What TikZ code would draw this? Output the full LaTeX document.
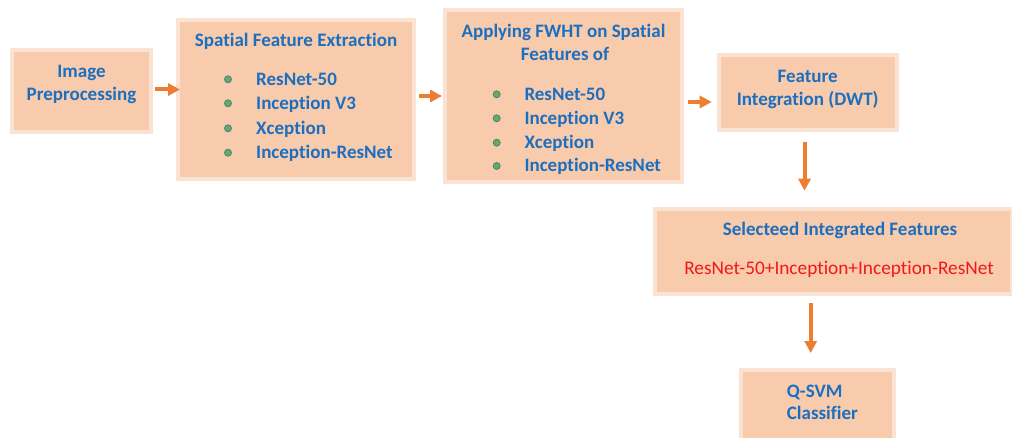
\documentclass[tikz,border=0pt]{standalone}
\usepackage{fontspec}
\setmainfont{Carlito}[Ligatures=NoCommon]
\usetikzlibrary{arrows.meta}
\definecolor{boxfill}{HTML}{F8CBAD}
\definecolor{boxrim}{HTML}{FBE3D3}
\definecolor{txtblue}{HTML}{1C6FBF}
\definecolor{arrorange}{HTML}{ED7D31}
\definecolor{dotgreen}{HTML}{6AAE47}
\definecolor{dotrim}{HTML}{3A7FA8}
\definecolor{txtred}{HTML}{F21818}
\tikzset{
  stage/.style={draw=boxrim, fill=boxfill, line width=4pt, inner sep=0pt, outer sep=0pt},
  lbl/.style={inner sep=0pt, text=txtblue, font=\fontsize{19}{22}\selectfont\bfseries, anchor=mid, yshift=-3.5pt},
  item/.style={lbl, anchor=mid west},
  dot/.style={circle, fill=dotgreen, draw=dotrim, line width=0.8pt, minimum size=7pt, inner sep=0pt},
  arr/.style={draw=arrorange, line width=4pt, -{Triangle[length=12pt,width=12pt]}},
}
\begin{document}
\begin{tikzpicture}[x=1pt, y=-1pt]
\useasboundingbox (0,0) rectangle (1012,438);
\clip (0,0) rectangle (1012,438);
\fill[white] (0,0) rectangle (1012,438);

% stage boxes
\node[stage, minimum width=139pt, minimum height=82pt] (b1) at (81.5,91) {};
\node[stage, minimum width=236pt, minimum height=158.5pt] (b2) at (296,99.3) {};
\node[stage, minimum width=237pt, minimum height=172pt] (b3) at (563.5,96) {};
\node[stage, minimum width=178pt, minimum height=74.7pt] (b4) at (807.7,92.3) {};
\node[stage, minimum width=357.3pt, minimum height=85.3pt] (b5) at (833.3,251.3) {};
\node[stage, minimum width=153.3pt, minimum height=78pt] (b6) at (817.3,409) {};

% image preprocessing
\node[lbl] (t1a) at (81.5,72) {Image};
\node[lbl] (t1b) at (81.5,95) {Preprocessing};

% spatial feature extraction
\node[lbl] (t2) at (296,41) {Spatial Feature Extraction};
\foreach \y/\name [count=\i] in {79.3/ResNet-50, 103.3/Inception V3, 128.3/Xception, 152.7/Inception-ResNet} {
  \node[dot] (d2\i) at (228,\y) {};
  \node[item] (i2\i) at (256,\y) {\name};
}

% FWHT stage
\node[lbl] (t3a) at (563.5,32) {Applying FWHT on Spatial};
\node[lbl] (t3b) at (565,55) {Features of};
\foreach \y/\name [count=\i] in {94.3/ResNet-50, 118.3/Inception V3, 142.7/Xception, 166/Inception-ResNet} {
  \node[dot] (d3\i) at (496.7,\y) {};
  \node[item] (i3\i) at (524.3,\y) {\name};
}

% feature integration
\node[lbl] (t4a) at (807.7,77) {Feature};
\node[lbl] (t4b) at (807.7,100) {Integration (DWT)};

% selected features
\node[lbl] (t5a) at (840,229.5) {Selecteed Integrated Features};
\node[lbl, text=txtred, font=\fontsize{19.3}{22}\selectfont] (t5b) at (839,268.5) {ResNet-50+Inception+Inception-ResNet};

% classifier
\node[item] (t6a) at (786.7,392) {Q-SVM};
\node[item] (t6b) at (786.7,413.5) {Classifier};

% flow arrows
\draw[arr, shorten <=4pt, shorten >=-2pt] (b1.east |- 0,89.5) -- (b2.west |- 0,89.5);
\draw[arr, shorten <=5pt, shorten >=3pt] (b2.east |- 0,96) -- (b3.west |- 0,96);
\draw[arr, shorten <=6pt, shorten >=7pt] (b3.east |- 0,102) -- (b4.west |- 0,102);
\draw[arr, shorten <=12pt, shorten >=18pt] (b4.south -| 804.5,0) -- (b5.north -| 804.5,0);
\draw[arr, shorten <=9pt, shorten >=17pt] (b5.south -| 810.7,0) -- (b6.north -| 810.7,0);
\end{tikzpicture}
\end{document}
